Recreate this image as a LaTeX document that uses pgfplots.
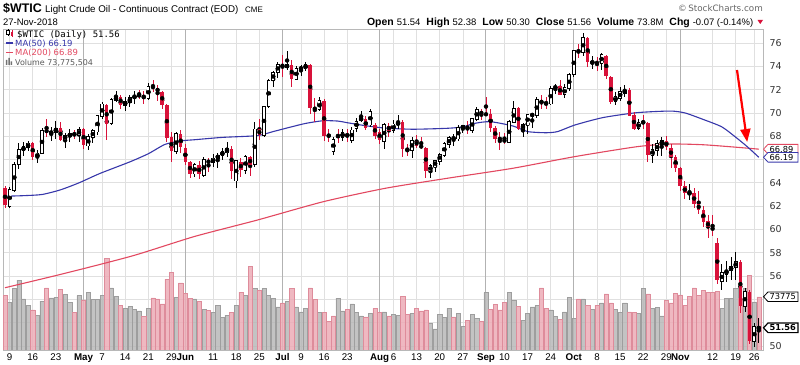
\documentclass[border=0pt]{standalone}
\usepackage{fontspec}
\setmainfont{Liberation Sans}
\newfontfamily\dejavu{DejaVu Sans}
\newfontfamily\dejavumono{DejaVu Sans Mono}
\usepackage{pgfplots}
\usepackage{pgfplotstable}
\pgfplotsset{compat=1.18}
\usetikzlibrary{arrows.meta}
\definecolor{candred}{RGB}{216,18,58}
\definecolor{maA}{RGB}{55,55,170}
\definecolor{maB}{RGB}{226,72,96}
\definecolor{volpink}{RGB}{236,172,182}
\definecolor{volpinkedge}{RGB}{222,140,155}
\definecolor{volgray}{RGB}{184,184,184}
\definecolor{volgrayedge}{RGB}{158,158,158}

\pgfplotstableread{
i o h l c v d
0 63.55 63.70 61.85 62.06 75.5 1
1 62.00 63.68 61.80 63.42 66.2 0
2 63.40 65.80 63.20 65.51 85.0 0
3 65.60 67.45 65.20 66.82 96.8 0
4 66.80 67.50 66.30 67.07 70.9 0
5 67.05 67.60 66.70 67.39 62.3 0
6 67.40 67.50 66.00 66.22 55.7 1
7 66.20 66.80 65.70 66.52 48.2 0
8 66.55 68.70 66.50 68.47 67.6 0
9 68.60 69.50 67.90 68.29 86.0 1
10 68.25 68.80 67.60 68.38 72.3 0
11 68.35 69.30 67.80 68.64 73.3 0
12 68.70 69.20 67.60 67.70 83.6 1
13 67.70 68.30 67.00 68.05 77.5 0
14 68.00 68.60 67.50 68.19 66.2 0
15 68.20 68.55 67.80 68.10 52.0 1
16 68.10 68.80 67.50 68.57 75.5 0
17 68.60 68.70 66.90 67.25 69.4 1
18 67.20 68.20 66.80 67.93 80.3 0
19 67.95 68.60 67.40 68.43 69.9 0
20 68.40 69.80 68.10 69.72 69.9 0
21 69.70 70.90 69.50 70.73 75.5 0
22 70.70 70.80 67.70 69.06 127.5 1
23 69.10 71.30 69.00 71.14 86.0 0
24 71.10 71.90 70.90 71.36 74.7 0
25 71.40 71.50 70.30 70.70 62.3 1
26 70.70 71.40 70.20 70.96 57.7 0
27 70.90 71.50 70.50 71.31 60.5 0
28 71.30 71.90 70.80 71.49 56.7 0
29 71.50 72.00 71.20 71.49 54.3 0
30 71.50 71.90 70.80 71.28 46.3 1
31 71.30 72.60 71.10 72.24 57.7 0
32 72.30 72.80 71.80 72.13 72.3 1
33 72.10 72.40 71.00 71.84 70.9 1
34 71.80 71.90 70.30 70.71 63.8 1
35 70.70 70.80 67.50 67.88 98.2 1
36 67.90 68.40 65.80 66.73 107.7 1
37 66.70 68.40 66.50 68.21 73.3 0
38 68.20 68.50 66.60 67.04 93.1 1
39 67.00 67.30 65.50 65.81 78.9 1
40 65.80 65.90 64.40 64.75 71.8 1
41 64.80 65.70 64.50 65.52 70.9 0
42 65.50 65.90 64.30 64.73 67.0 1
43 64.70 66.20 64.50 65.95 56.7 0
44 65.90 66.10 64.90 65.74 55.3 1
45 65.75 66.50 65.40 66.10 52.0 0
46 66.10 66.60 65.30 66.36 61.4 0
47 66.40 67.00 66.00 66.64 44.9 0
48 66.60 67.50 66.20 66.89 48.2 0
49 66.90 67.20 64.30 65.06 52.0 1
50 64.20 66.00 63.60 65.85 62.3 0
51 65.80 66.10 64.50 65.07 80.3 1
52 65.10 66.40 64.80 66.22 75.5 0
53 66.20 66.30 64.60 65.54 115.8 1
54 65.60 69.20 65.40 68.58 85.0 0
55 68.60 69.50 67.70 68.08 82.6 1
56 68.10 70.60 67.90 70.53 85.0 0
57 70.60 72.90 70.40 72.76 75.5 0
58 72.80 73.60 72.20 73.45 71.8 0
59 73.50 74.40 73.00 74.15 59.9 0
60 74.00 75.00 73.10 73.94 65.2 1
61 73.90 75.30 73.70 74.14 67.0 0
62 74.10 74.50 72.20 72.94 85.0 1
63 72.90 74.00 72.80 73.80 59.9 0
64 73.80 74.10 73.20 73.85 52.9 0
65 73.80 74.40 73.60 74.11 57.7 0
66 74.10 74.20 69.90 70.38 86.0 1
67 70.40 71.30 69.20 70.33 69.9 1
68 70.30 71.40 70.20 71.01 52.0 0
69 71.00 71.20 67.60 68.06 52.0 1
70 68.10 68.60 67.50 68.00 40.1 1
71 66.70 67.90 66.40 67.70 47.2 1
72 68.10 68.60 67.40 67.95 71.8 0
73 67.95 68.60 67.60 68.25 54.3 0
74 68.20 68.60 67.50 68.00 56.7 1
75 67.70 68.80 67.40 68.50 63.8 0
76 68.70 69.60 68.40 69.25 52.0 0
77 69.40 70.20 69.20 69.55 47.2 0
78 69.50 69.70 68.50 68.70 45.8 1
79 69.00 70.30 68.80 70.10 51.0 0
80 69.00 69.10 67.80 68.00 57.7 1
81 68.40 68.60 67.30 67.70 52.0 1
82 67.60 69.10 66.90 68.96 52.9 0
83 68.90 69.10 67.90 68.49 47.2 1
84 68.50 69.40 68.30 69.01 49.6 0
85 69.00 69.80 68.60 69.17 48.2 0
86 69.20 69.40 66.20 66.94 74.7 1
87 66.90 67.30 66.30 66.81 49.6 1
88 66.80 67.90 66.10 67.63 51.0 0
89 67.60 68.10 67.00 67.20 57.7 1
90 67.20 67.90 66.90 67.04 54.3 1
91 67.00 67.10 64.40 65.01 55.7 1
92 65.00 65.60 64.40 65.46 36.4 0
93 65.40 66.00 64.90 65.91 29.3 0
94 65.90 66.60 65.50 66.43 49.6 0
95 66.40 67.50 66.20 67.35 44.9 0
96 67.30 68.00 67.00 67.86 57.7 0
97 67.80 68.20 67.20 67.83 45.8 1
98 67.80 69.00 67.60 68.72 51.0 0
99 68.70 69.00 68.30 68.87 33.0 0
100 68.80 69.30 68.20 68.53 41.5 1
101 68.50 69.60 68.30 69.51 49.6 0
102 69.50 70.50 69.30 70.25 43.5 0
103 70.20 70.30 69.40 69.80 40.1 1
104 69.90 71.40 69.70 69.87 79.4 0
105 69.90 70.30 68.40 68.72 56.7 1
106 68.70 68.90 67.40 67.77 62.8 1
107 67.80 68.40 66.80 67.75 55.7 1
108 67.70 68.30 67.30 67.54 66.2 1
109 67.50 69.40 67.40 69.25 79.4 0
110 69.20 71.00 69.10 70.37 68.4 0
111 70.40 70.50 68.50 68.59 60.5 1
112 68.60 69.10 67.90 68.99 41.5 0
113 69.00 69.90 68.20 69.85 51.0 0
114 69.80 70.00 68.70 69.85 59.9 0
115 69.80 71.40 69.60 71.12 61.4 0
116 71.10 71.50 70.30 70.80 86.0 1
117 70.80 71.40 70.30 70.78 57.7 1
118 70.80 72.30 70.70 72.08 55.7 0
119 72.10 72.50 71.60 72.28 46.3 0
120 72.30 72.80 71.50 71.57 42.5 1
121 71.60 72.50 71.30 72.12 52.9 0
122 72.10 73.40 71.90 73.25 73.3 0
123 73.30 75.40 73.10 75.30 43.5 0
124 75.30 75.90 74.70 75.23 70.9 1
125 75.20 76.90 74.90 76.41 70.9 0
126 76.40 76.50 73.90 74.33 62.3 1
127 74.30 74.90 73.80 74.34 56.7 0
128 74.30 74.80 73.60 74.29 62.3 1
129 74.30 75.10 73.70 74.96 65.2 0
130 74.90 75.00 72.90 73.17 77.9 1
131 73.10 73.20 70.80 70.97 65.2 1
132 71.00 71.80 70.70 71.34 56.7 0
133 71.30 72.20 71.00 71.78 52.0 0
134 71.70 72.40 71.40 71.92 65.2 0
135 72.00 72.10 69.70 69.75 52.9 1
136 69.80 70.10 68.50 68.65 52.0 1
137 68.70 69.50 68.50 69.12 50.6 0
138 69.20 69.80 68.60 69.17 85.0 0
139 69.10 69.20 65.80 66.43 77.9 1
140 66.40 67.30 65.70 66.82 57.7 0
141 66.80 67.70 66.30 67.33 59.1 0
142 67.30 67.90 66.30 67.59 47.2 0
143 67.60 68.00 66.80 67.04 68.4 1
144 67.00 67.30 65.30 66.18 65.2 1
145 66.20 66.40 64.90 65.31 78.9 1
146 65.30 65.40 63.30 63.69 76.5 1
147 63.70 64.20 62.60 63.14 61.4 1
148 63.10 63.90 62.50 63.10 74.1 1
149 63.10 63.60 61.80 62.21 86.0 1
150 62.20 63.30 61.30 61.67 75.5 1
151 61.70 62.00 60.20 60.67 82.6 1
152 60.70 61.20 59.30 60.19 80.3 1
153 60.20 61.20 59.40 59.93 80.3 1
154 58.80 59.30 55.30 55.69 81.2 1
155 55.60 57.00 54.80 56.25 57.7 0
156 56.20 57.30 55.50 56.46 71.8 0
157 56.50 57.60 55.70 56.76 71.8 0
158 56.80 58.10 55.70 57.20 85.0 0
159 57.20 57.40 52.80 53.43 71.8 1
160 53.40 55.00 52.90 54.63 85.0 0
161 54.60 54.80 50.20 50.42 103.4 1
162 50.40 52.00 49.90 51.63 66.6 0
163 51.54 52.38 50.30 51.56 73.8 1
}\candles

\pgfplotstableread{
i m
0 62.85
4 62.90
8 63.00
12 63.40
16 64.00
20.5 64.80
27 65.80
31 66.50
34.6 67.30
38 67.60
41 67.70
47 67.90
54.5 68.05
58 68.40
61.6 68.77
65 69.10
68.8 69.33
72 69.30
74 69.16
78 68.90
82.2 68.70
88.2 68.60
95.6 68.68
99 68.80
101.5 69.10
104.9 69.25
109.8 68.88
113 68.40
117 68.30
119.5 68.40
123.2 68.96
129.3 69.60
136.6 70.02
143.8 70.16
147 70.00
150.9 69.45
155 68.80
158.3 67.82
160.5 67.10
163 66.19
}\maFifty

\pgfplotstableread{
i m
0 55.00
13 56.24
27.7 57.75
41 59.40
54.5 60.80
68.8 62.38
82.2 63.53
95.6 64.39
109.8 65.25
123.2 66.25
136.6 67.10
143.8 67.33
150.9 67.27
158.3 67.05
163 66.89
}\maTwoHundred

\pgfplotsset{
  chartbase/.style={anchor=south west, scale only axis,
    width=760bp, height=321bp, xmin=-0.43, xmax=163.9},
  pricerange/.style={ymin=49.657, ymax=77.201},
}
% value tag at the right edge: colour, y value, text, border width, font
\newcommand{\valuetag}[5]{%
  \draw[draw=#1, fill=white, line width=#4, line join=miter]
    ([xshift=0.5bp]axis cs:163.9,#2) -- ++(4.5bp,4.8bp) -- ++(30bp,0bp) -- ++(0bp,-9.6bp) -- ++(-30bp,0bp) -- cycle;
  \node[anchor=west, inner sep=0pt, font=#5] at ([xshift=6.5bp]axis cs:163.9,#2) {#3};
}
\newcommand{\hd}[2]{{\fontsize{10.5}{12}\selectfont\bfseries #1}\hspace{3bp}{\fontsize{9.5}{11}\selectfont #2}}

\begin{document}
\begin{tikzpicture}[x=1bp,y=1bp]

% ---------- frame, grid, ticks ----------
\begin{axis}[chartbase, pricerange, name=main, at={(0,0)},
  axis line style={draw=black!28},
  major tick length=0pt,
  ytick={50,52,...,76}, yticklabel pos=right,
  yticklabels={50,,,56,58,60,62,64,,68,70,72,74,76},
  yticklabel style={anchor=west, xshift=3bp, text=black!80, font=\dejavu\fontsize{9.5}{11}\selectfont},
  xtick={1,6,11,21,26,31,36,45,50,55,64,69,74,84,89,94,99,108,113,118,128,133,138,143,153,158,162},
  xticklabels={9,16,23,7,14,21,29,11,18,25,9,16,23,6,13,20,27,10,17,24,8,15,22,29,12,19,26},
  extra x ticks={17,39,60,81,104,123,146},
  extra x tick labels={\textbf{May},\textbf{Jun},\textbf{Jul},\textbf{Aug},\textbf{Sep},\textbf{Oct},\textbf{Nov}},
  extra x tick style={major tick length=0pt, major grid style={draw=black!30, line width=1bp}},
  xmajorgrids, ymajorgrids,
  major grid style={draw=black!12, line width=0.7bp},
  xticklabel style={font=\fontsize{9.8}{11}\selectfont},
  /pgf/number format/assume math mode=true,
]
\end{axis}

% ---------- volume ----------
\begin{axis}[chartbase, at={(main.south west)}, ymin=0, ymax=445, hide axis, clip mode=individual]
\addplot[ybar, bar shift=0pt, bar width=0.88, draw=volgrayedge, fill=volgray, fill opacity=0.85, line width=0.5bp,
  restrict expr to domain={\thisrow{d}}{-0.5:0.5}] table[x=i, y=v] {\candles};
\addplot[ybar, bar shift=0pt, bar width=0.88, draw=volpinkedge, fill=volpink, fill opacity=0.85, line width=0.5bp,
  restrict expr to domain={\thisrow{d}}{0.5:1.5}] table[x=i, y=v] {\candles};
\valuetag{black}{73.8}{73775}{0.8bp}{\dejavu\fontsize{8.3}{10}\selectfont}
\end{axis}

% ---------- price: moving averages and candles ----------
\begin{axis}[chartbase, at={(main.south west)}, pricerange, hide axis, clip mode=individual]
\addplot[maB, line width=1.1bp, smooth, tension=0.4] table[x=i, y=m] {\maTwoHundred};
\addplot[maA, line width=1.1bp, smooth, tension=0.4] table[x=i, y=m] {\maFifty};

% up candles: wick, black outline, white body
\addplot[only marks, mark=none,
  restrict expr to domain={\thisrow{c}-\thisrow{o}}{0:100},
  error bars/.cd, y dir=both, y explicit, error mark=none,
  error bar style={draw=black, line width=0.9bp}]
  table[x=i, y expr={(\thisrow{h}+\thisrow{l})/2}, y error expr={(\thisrow{h}-\thisrow{l})/2}] {\candles};
\addplot[only marks, mark=none,
  restrict expr to domain={\thisrow{c}-\thisrow{o}}{0:100},
  error bars/.cd, y dir=both, y explicit, error mark=none,
  error bar style={draw=black, line width=3.7bp, line cap=butt}]
  table[x=i, y expr={(\thisrow{o}+\thisrow{c})/2}, y error expr={max((\thisrow{c}-\thisrow{o})/2,0.035)+0.07}] {\candles};
\addplot[only marks, mark=none,
  restrict expr to domain={\thisrow{c}-\thisrow{o}}{0:100},
  error bars/.cd, y dir=both, y explicit, error mark=none,
  error bar style={draw=white, line width=2.0bp, line cap=butt}]
  table[x=i, y expr={(\thisrow{o}+\thisrow{c})/2}, y error expr={max((\thisrow{c}-\thisrow{o})/2,0.035)}] {\candles};

% down candles: red wick and red filled body
\addplot[only marks, mark=none,
  restrict expr to domain={\thisrow{c}-\thisrow{o}}{-100:-0.00001},
  error bars/.cd, y dir=both, y explicit, error mark=none,
  error bar style={draw=candred, line width=0.9bp}]
  table[x=i, y expr={(\thisrow{h}+\thisrow{l})/2}, y error expr={(\thisrow{h}-\thisrow{l})/2}] {\candles};
\addplot[only marks, mark=none,
  restrict expr to domain={\thisrow{c}-\thisrow{o}}{-100:-0.00001},
  error bars/.cd, y dir=both, y explicit, error mark=none,
  error bar style={draw=candred, line width=3.5bp, line cap=butt}]
  table[x=i, y expr={(\thisrow{o}+\thisrow{c})/2}, y error expr={max((\thisrow{o}-\thisrow{c})/2,0.04)}] {\candles};

\valuetag{maB}{66.89}{66.89}{0.8bp}{\dejavu\fontsize{8.3}{10}\selectfont}
\valuetag{maA}{66.19}{66.19}{0.8bp}{\dejavu\fontsize{8.3}{10}\selectfont}
\valuetag{black}{51.56}{51.56}{1.2bp}{\dejavu\fontsize{8.3}{10}\selectfont\bfseries}
\end{axis}

% origin of the 800 x 365 picture, relative to the plot box
\coordinate (O) at ([shift={(-3bp,-15bp)}]main.south west);

\begin{scope}[shift={(O)}]
% ---------- header ----------
\node[anchor=base west, inner sep=0] at (3,352.5) {\fontsize{12.5}{14}\selectfont\bfseries \$WTIC};
\node[anchor=base west, inner sep=0] at (45,352.5) {\fontsize{9.8}{12}\selectfont Light Crude Oil - Continuous Contract (EOD)};
\node[anchor=base west, inner sep=0] at (245,352.5) {\fontsize{8}{10}\selectfont CME};
\node[anchor=base west, inner sep=0] at (3,340) {\fontsize{9.5}{11}\selectfont 27-Nov-2018};
\node[anchor=base east, inner sep=0] at (753.5,340) {\hd{Open}{51.54}\hspace{6bp}\hd{High}{52.38}\hspace{6bp}\hd{Low}{50.30}\hspace{6bp}\hd{Close}{51.56}\hspace{6bp}\hd{Volume}{73.8M}\hspace{6bp}\hd{Chg}{-0.07 (-0.14\%)}};
\fill[candred] (757.5,345) -- (763,345) -- (760.25,341) -- cycle;
\node[anchor=base east, inner sep=0, text=black!60] at (763,354) {\dejavu\fontsize{8.8}{10}\selectfont \textcopyright\,StockCharts.com};

% ---------- legend inside plot ----------
\draw[black, line width=0.6bp] (8,329) -- (8,336);
\filldraw[fill=white, draw=black, line width=0.6bp] (6.8,330.5) rectangle (9.2,334.5);
\draw[candred, line width=0.6bp] (12,328) -- (12,335);
\fill[candred] (10.8,329) rectangle (13.2,333);
\node[anchor=base west, inner sep=0] at (17,328) {\dejavumono\fontsize{9}{10}\selectfont \$WTIC (Daily) 51.56};
\draw[maA, line width=1.4bp] (6,322) -- (13,322);
\node[anchor=base west, inner sep=0, text=maA] at (15,319) {\dejavu\fontsize{8.5}{10}\selectfont MA(50) 66.19};
\draw[maB, line width=1.4bp] (6,312.5) -- (13,312.5);
\node[anchor=base west, inner sep=0, text=maB] at (15,309.5) {\dejavu\fontsize{8.5}{10}\selectfont MA(200) 66.89};
\fill[black!55] (6,300) rectangle (7.5,305) (8.3,300) rectangle (9.8,307) (10.6,300) rectangle (12.1,303.5);
\node[anchor=base west, inner sep=0, text=black!65] at (15,300) {\dejavu\fontsize{8}{10}\selectfont Volume 73,775,504};

% ---------- annotation arrow ----------
\draw[red, line width=2.2bp, -{Triangle[length=13bp, width=10bp]}] (737,295) -- (747.2,223);
\end{scope}

\pgfresetboundingbox
\useasboundingbox (O) rectangle ([shift={(800bp,365bp)}]O);
\end{tikzpicture}
\end{document}
